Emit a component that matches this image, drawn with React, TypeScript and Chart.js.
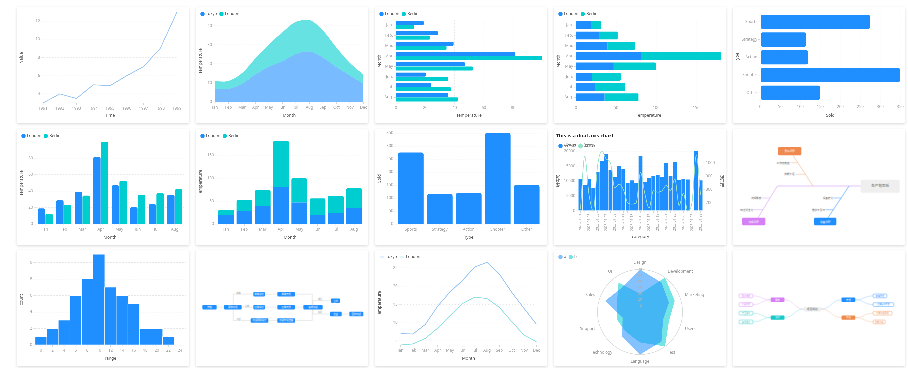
import React, { useEffect, useRef } from 'react';
import { Chart, registerables } from 'chart.js';
Chart.register(...registerables);

// ---------------- data ----------------
const years = ['1991', '1992', '1993', '1994', '1995', '1996', '1997', '1998', '1999'];
const yearValues = [3, 4, 3.5, 5, 4.9, 6, 7, 9, 13];
const valueTicks = [4, 6, 8, 10, 12];

const months12 = ['Jan', 'Feb', 'Mar', 'Apr', 'May', 'Jun', 'Jul', 'Aug', 'Sep', 'Oct', 'Nov', 'Dec'];
const tokyoTemps = [7.0, 6.9, 9.5, 14.5, 18.4, 21.5, 25.2, 26.5, 23.3, 18.3, 13.9, 9.6];
const londonTemps = [3.9, 4.2, 5.7, 8.5, 11.9, 15.2, 17.0, 16.6, 14.2, 10.3, 6.6, 4.8];
const areaTicks = [0, 10, 20, 30, 40];
const tempLineTicks = [5, 10, 15, 20, 25];

const months8Dot = ['Jan.', 'Feb.', 'Mar.', 'Apr.', 'May', 'Jun.', 'Jul.', 'Aug.'];
const months8 = ['Jan', 'Feb', 'Mar', 'Apr', 'May', 'Jun', 'Jul', 'Aug'];
const londonRain = [18.9, 28.8, 39.3, 81.4, 47, 20.3, 24, 35.6];
const berlinRain = [12.4, 23.2, 34.5, 99.7, 52.6, 35.5, 37.4, 42.4];
const groupTicks = [0, 20, 40, 60, 80];
const stackTicks = [0, 50, 100, 150];

const gameTypes = ['Sports', 'Strategy', 'Action', 'Shooter', 'Other'];
const gameSold = [275, 115, 120, 350, 150];
const soldTicks = [0, 50, 100, 150, 200, 250, 300, 350];

const histBins = ['0', '2', '4', '6', '8', '10', '12', '14', '16', '18', '20', '22', '24'];
const histCounts = [1, 2, 3, 6, 8, 11, 7, 6, 5, 2, 2, 1];
const histTicks = [0, 2, 4, 6, 8, 10];

const dualDates = [
  '2023-01-01', '2023-01-02', '2023-01-03', '2023-01-04', '2023-01-05', '2023-01-06', '2023-01-07', '2023-01-08',
  '2023-01-09', '2023-01-10', '2023-01-11', '2023-01-12', '2023-01-13', '2023-01-14', '2023-01-15', '2023-01-16',
  '2023-01-17', '2023-01-18', '2023-01-19', '2023-01-20', '2023-01-21', '2023-01-22', '2023-01-23', '2023-01-24',
  '2023-01-25', '2023-01-26', '2023-01-27', '2023-01-28', '2023-01-29',
];
const dualBars = [10700, 8600, 10600, 7700, 13000, 16700, 19100, 13700, 11400, 15000, 14100, 9300, 10200, 9200, 18300,
  9700, 10900, 11700, 12100, 11300, 16000, 11700, 16500, 10300, 10600, 10500, null, 20100, 10200];
const dualLine = [650, 1050, 760, 640, 980, 1090, 1030, 1000, 810, 840, 800, 700, 690, 700, 930, 770, 660, 790, 780,
  790, 830, 790, 880, 680, 770, 640, 700, 1060, 760];
const dualLeftTicks = [0, 5000, 10000, 15000, 20000];
const dualRightTicks = [700, 800, 900, 1000];

const radarItems = ['Design', 'Development', 'Marketing', 'Users', 'Test', 'Language', 'Technology', 'Support', 'Sales', 'UI'];
const radarA = [70, 60, 50, 40, 60, 70, 50, 30, 60, 50];
const radarB = [30, 70, 60, 50, 70, 50, 40, 40, 40, 60];

// ---------------- styles ----------------
const FONT = '"Noto Sans", "Noto Sans CJK SC", sans-serif';
const CJK = '"Noto Sans CJK SC", "Noto Sans", sans-serif';
const TICK = '#a8a8a8';
const TITLE = '#5a5a5a';
const GRID = '#e6e6e6';
const BLUE = '#1f8fff';
const TEAL = '#00cdd0';
const CW = 172;
const CH = 116;
const COLS = [17, 196, 375, 554, 733];
const ROWS = [7, 129, 250];

const f = (size: number, weight: any = 'normal') => ({ family: FONT, size, weight });

const base = (extra: any) => ({
  responsive: false,
  maintainAspectRatio: false,
  animation: false,
  devicePixelRatio: 3,
  events: [],
  ...extra,
  plugins: { tooltip: { enabled: false }, legend: { display: false }, ...(extra.plugins || {}) },
});

const legend = (maxHeight: number, extra: any = {}) => ({
  display: true,
  position: 'top',
  align: 'start',
  maxHeight,
  labels: {
    font: f(4), color: '#5a5a5a', boxWidth: 3, boxHeight: 3, usePointStyle: true, pointStyle: 'circle', padding: 3,
    ...extra,
  },
});

function catScale(title: string, size: number, horiz: boolean, extra: any = {}) {
  return {
    type: 'category',
    offset: true,
    grid: { drawOnChartArea: false, drawTicks: true, tickLength: 2, color: '#d4d4d4', lineWidth: 0.5, offset: false },
    border: { display: false },
    ticks: { font: f(4), color: TICK, padding: 1, autoSkip: false, maxRotation: 0, minRotation: 0 },
    title: { display: !!title, text: title, font: f(4.2), color: TITLE, padding: 0 },
    afterFit: (a: any) => { if (horiz) a.height = size; else a.width = size; },
    ...extra,
  };
}

function valScale(title: string, size: number, horiz: boolean, tickVals: number[], extra: any = {}) {
  return {
    type: 'linear',
    grid: { color: GRID, lineWidth: 0.5, drawTicks: true, tickLength: 2 },
    border: { display: false, dash: [1.5, 1.5] },
    ticks: { font: f(4), color: TICK, padding: 1, callback: (v: any) => String(v) },
    afterBuildTicks: (a: any) => { a.ticks = tickVals.map((v) => ({ value: v })); },
    title: { display: !!title, text: title, font: f(4.2), color: TITLE, padding: 0 },
    afterFit: (a: any) => { if (horiz) a.height = size; else a.width = size; },
    ...extra,
  };
}

const sum = (a: number[], b: number[]) => a.map((v, i) => v + b[i]);
const maxOf = (a: any[]) => Math.max(...a.filter((v) => v != null));
const minOf = (a: any[]) => Math.min(...a.filter((v) => v != null));

// ---------------- chart configs ----------------
const cfgLine1 = () => ({
  type: 'line',
  data: { labels: years, datasets: [{ data: yearValues, borderColor: '#96c4f4', borderWidth: 0.8, pointRadius: 0, tension: 0 }] },
  options: base({
    layout: { padding: { left: 2, right: 12, top: 5, bottom: 5 } },
    scales: {
      x: catScale('Time', 15, true, { offset: false }),
      y: valScale('Value', 24, false, valueTicks, { min: minOf(yearValues), max: maxOf(yearValues) }),
    },
  }),
});

const cfgArea = () => ({
  type: 'line',
  data: {
    labels: months12,
    datasets: [
      { label: 'Tokyo', data: tokyoTemps, fill: 'origin', backgroundColor: 'rgba(30,144,255,0.6)', borderWidth: 0, pointRadius: 0, tension: 0.35, pointBackgroundColor: BLUE, borderColor: BLUE },
      { label: 'London', data: londonTemps, fill: '-1', backgroundColor: 'rgba(0,206,209,0.6)', borderWidth: 0, pointRadius: 0, tension: 0.35, pointBackgroundColor: TEAL, borderColor: TEAL },
    ],
  },
  options: base({
    layout: { padding: { left: 2, right: 4, top: 2, bottom: 5 } },
    plugins: { legend: legend(11) },
    scales: {
      x: catScale('Month', 16, true, { offset: false }),
      y: valScale('Temperature', 17, false, areaTicks, { stacked: true, min: 0, max: maxOf(sum(tokyoTemps, londonTemps)) }),
    },
  }),
});

const cfgGroupH = () => ({
  type: 'bar',
  data: {
    labels: months8Dot,
    datasets: [
      { label: 'London', data: londonRain, backgroundColor: BLUE, borderRadius: 1, categoryPercentage: 0.82, barPercentage: 0.95 },
      { label: 'Berlin', data: berlinRain, backgroundColor: TEAL, borderRadius: 1, categoryPercentage: 0.82, barPercentage: 0.95 },
    ],
  },
  options: base({
    indexAxis: 'y',
    layout: { padding: { left: 2, right: 5, top: 2, bottom: 5 } },
    plugins: { legend: legend(11) },
    scales: {
      y: catScale('Month', 19, false),
      x: valScale('Temperature', 15.5, true, groupTicks, { min: 0, max: maxOf(berlinRain) }),
    },
  }),
});

const cfgStackH = () => ({
  type: 'bar',
  data: {
    labels: months8Dot,
    datasets: [
      { label: 'London', data: londonRain, backgroundColor: BLUE, borderRadius: 1, categoryPercentage: 0.8, barPercentage: 0.95 },
      { label: 'Berlin', data: berlinRain, backgroundColor: TEAL, borderRadius: 1, categoryPercentage: 0.8, barPercentage: 0.95 },
    ],
  },
  options: base({
    indexAxis: 'y',
    layout: { padding: { left: 2, right: 5, top: 2, bottom: 5 } },
    plugins: { legend: legend(11) },
    scales: {
      y: catScale('Month', 20, false, { stacked: true }),
      x: valScale('Temperature', 15.5, true, stackTicks, { stacked: true, min: 0, max: maxOf(sum(londonRain, berlinRain)) }),
    },
  }),
});

const cfgSoldH = () => ({
  type: 'bar',
  data: {
    labels: gameTypes,
    datasets: [{ data: gameSold, backgroundColor: BLUE, borderColor: '#ffffff', borderWidth: 0.5, borderRadius: 2, borderSkipped: false, categoryPercentage: 0.9, barPercentage: 0.96 }],
  },
  options: base({
    indexAxis: 'y',
    layout: { padding: { left: 2, right: 4.7, top: 6, bottom: 5 } },
    scales: {
      y: catScale('Type', 25.3, false),
      x: valScale('Sold', 16.4, true, soldTicks, { min: 0, max: maxOf(gameSold) }),
    },
  }),
});

const cfgGroupV = () => ({
  type: 'bar',
  data: {
    labels: months8,
    datasets: [
      { label: 'London', data: londonRain, backgroundColor: BLUE, borderRadius: { topLeft: 1.5, topRight: 1.5 }, categoryPercentage: 0.84, barPercentage: 0.95 },
      { label: 'Berlin', data: berlinRain, backgroundColor: TEAL, borderRadius: { topLeft: 1.5, topRight: 1.5 }, categoryPercentage: 0.84, barPercentage: 0.95 },
    ],
  },
  options: base({
    layout: { padding: { left: 2, right: 5, top: 2, bottom: 5 } },
    plugins: { legend: legend(11) },
    scales: {
      x: catScale('Month', 16, true),
      y: valScale('Temperature', 17, false, groupTicks, { min: 0, max: maxOf(berlinRain) }),
    },
  }),
});

const cfgStackV = () => ({
  type: 'bar',
  data: {
    labels: months8,
    datasets: [
      { label: 'London', data: londonRain, backgroundColor: BLUE, categoryPercentage: 0.86, barPercentage: 1 },
      { label: 'Berlin', data: berlinRain, backgroundColor: TEAL, borderRadius: { topLeft: 1.5, topRight: 1.5 }, categoryPercentage: 0.86, barPercentage: 1 },
    ],
  },
  options: base({
    layout: { padding: { left: 2, right: 4.7, top: 2, bottom: 5 } },
    plugins: { legend: legend(10) },
    scales: {
      x: catScale('Month', 16, true, { stacked: true }),
      y: valScale('Temperature', 19, false, stackTicks, { stacked: true, min: 0, max: maxOf(sum(londonRain, berlinRain)) }),
    },
  }),
});

const cfgSoldV = () => ({
  type: 'bar',
  data: {
    labels: gameTypes,
    datasets: [{ data: gameSold, backgroundColor: BLUE, borderRadius: 2, borderSkipped: 'bottom', categoryPercentage: 0.885, barPercentage: 1 }],
  },
  options: base({
    layout: { padding: { left: 2, right: 5.8, top: 4, bottom: 5 } },
    scales: {
      x: catScale('Type', 16, true),
      y: valScale('Sold', 19.3, false, soldTicks, { min: 0, max: maxOf(gameSold) }),
    },
  }),
});

const cfgDual = () => ({
  type: 'bar',
  data: {
    labels: dualDates,
    datasets: [
      { type: 'line', label: '满意度', data: dualLine, yAxisID: 'y1', borderColor: '#96e2c6', backgroundColor: '#96e2c6', borderWidth: 0.7, pointRadius: 0, cubicInterpolationMode: 'monotone', order: 0, pointStyle: 'circle' },
      { type: 'bar', label: '销售额', data: dualBars, yAxisID: 'y', backgroundColor: BLUE, categoryPercentage: 0.9, barPercentage: 1, order: 1, pointStyle: 'rect' },
    ],
  },
  options: base({
    layout: { padding: { left: 2, right: 2, top: 2, bottom: 5.6 } },
    plugins: {
      title: { display: true, text: 'This is a dual axis chart', align: 'start', color: '#222', font: { family: FONT, size: 5, weight: 'bold' }, padding: { top: 2, bottom: 2 } },
      legend: { ...legend(10), reverse: true },
    },
    scales: {
      x: catScale('category', 28.7, true, {
        ticks: { font: f(3.3), color: TICK, padding: 1, autoSkip: false, minRotation: 90, maxRotation: 90, callback: (_v: any, i: number) => (i % 2 === 0 ? dualDates[i] : '') },
        title: { display: true, text: 'category', font: f(4.2), color: TITLE, padding: 0 },
      }),
      y: valScale('销售额', 22.3, false, dualLeftTicks, { min: 0, max: maxOf(dualBars), position: 'left' }),
      y1: valScale('满意度', 21.3, false, dualRightTicks, { min: minOf(dualLine), max: maxOf(dualLine), position: 'right', grid: { drawOnChartArea: false, drawTicks: true, tickLength: 2, color: GRID, lineWidth: 0.5 } }),
    },
  }),
});

const cfgHist = () => ({
  type: 'bar',
  data: {
    labels: histBins,
    datasets: [{ data: histCounts, backgroundColor: BLUE, borderColor: '#ffffff', borderWidth: 0.5, borderSkipped: false, categoryPercentage: 1, barPercentage: 1 }],
  },
  options: base({
    layout: { padding: { left: 2, right: 3.2, top: 4.3, bottom: 5 } },
    scales: {
      x: catScale('range', 16, true),
      y: valScale('count', 16.2, false, histTicks, { min: 0, max: maxOf(histCounts) }),
    },
  }),
});

const cfgLine2 = () => ({
  type: 'line',
  data: {
    labels: months12,
    datasets: [
      { label: 'Tokyo', data: tokyoTemps, borderColor: '#92c2f4', backgroundColor: '#92c2f4', borderWidth: 0.8, pointRadius: 0, tension: 0, pointStyle: 'line' },
      { label: 'London', data: londonTemps, borderColor: '#8cdfe0', backgroundColor: '#8cdfe0', borderWidth: 0.8, pointRadius: 0, tension: 0, pointStyle: 'line' },
    ],
  },
  options: base({
    layout: { padding: { left: 2, right: 10.6, top: 2, bottom: 5 } },
    plugins: { legend: legend(10.3, { pointStyle: 'line', boxWidth: 4 }) },
    scales: {
      x: catScale('Month', 16, true, { offset: false }),
      y: valScale('Temperature', 23.6, false, tempLineTicks, { min: minOf(londonTemps), max: maxOf(tokyoTemps) }),
    },
  }),
});

const cfgRadar = () => ({
  type: 'radar',
  data: {
    labels: radarItems,
    datasets: [
      { label: 'a', data: radarA, backgroundColor: 'rgba(30,144,255,0.55)', borderColor: 'rgba(30,144,255,0.55)', borderWidth: 0, pointRadius: 0, fill: true },
      { label: 'b', data: radarB, backgroundColor: 'rgba(0,206,209,0.55)', borderColor: 'rgba(0,206,209,0.55)', borderWidth: 0, pointRadius: 0, fill: true },
    ],
  },
  options: base({
    layout: { padding: { left: 2, right: 2, top: 2, bottom: 1 } },
    plugins: { legend: legend(9) },
    scales: {
      r: {
        min: 0,
        max: 70,
        ticks: { stepSize: 10, font: f(3.3), color: '#b0b0b0', showLabelBackdrop: false, z: 1 },
        grid: { circular: true, lineWidth: 0.6, color: (c: any) => (c.index === 7 ? '#d9d9d9' : 'rgba(0,0,0,0)') },
        angleLines: { display: false },
        pointLabels: { font: f(4), color: '#9a9a9a', padding: 1 },
      },
    },
  }),
});

// ---------------- components ----------------
const cardStyle = (x: number, y: number): any => ({
  position: 'absolute', left: x, top: y, width: CW, height: CH, background: '#ffffff',
  boxShadow: '0 1px 3px rgba(0,0,0,0.16)', borderRadius: 1, overflow: 'hidden',
});

function ChartCard({ x, y, make }: any) {
  const ref = useRef<HTMLCanvasElement>(null);
  useEffect(() => {
    const chart = new Chart(ref.current as HTMLCanvasElement, make());
    return () => chart.destroy();
  }, []);
  return (
    <div style={cardStyle(x, y)}>
      <canvas ref={ref} width={CW} height={CH} style={{ display: 'block', width: CW, height: CH }} />
    </div>
  );
}

function Fishbone() {
  const t = { fontFamily: CJK, fontSize: 2.6, fill: '#666' } as any;
  const box = (x: number, y: number, w: number, h: number, color: string, label: string) => (
    <g>
      <rect x={x} y={y} width={w} height={h} rx={1.2} fill={color} />
      <text x={x + w / 2} y={y + h / 2 + 1} textAnchor="middle" style={{ ...t, fill: '#fff' }}>{label}</text>
    </g>
  );
  return (
    <svg width={CW} height={CH} viewBox={`0 0 ${CW} ${CH}`} style={{ display: 'block' }}>
      <line x1={44.3} y1={57} x2={128} y2={57} stroke="#dcaef6" strokeWidth={0.7} />
      <line x1={60} y1={26.3} x2={80} y2={57} stroke="#f4b58c" strokeWidth={0.6} />
      <line x1={57.5} y1={33.7} x2={64.8} y2={33.7} stroke="#f4b58c" strokeWidth={0.5} />
      <line x1={62.5} y1={45.3} x2={72.4} y2={45.3} stroke="#f4b58c" strokeWidth={0.5} />
      <text x={56.5} y={34.6} textAnchor="end" style={t}>工作态度差</text>
      <text x={61.5} y={46.2} textAnchor="end" style={t}>技能不足</text>
      {box(45, 18, 23.3, 8.3, '#f0894f', '员工问题')}
      <line x1={44.3} y1={57} x2={25} y2={88.7} stroke="#d9a0f6" strokeWidth={0.6} />
      <line x1={29} y1={69} x2={37} y2={69} stroke="#d9a0f6" strokeWidth={0.5} />
      <line x1={21} y1={80.7} x2={30} y2={80.7} stroke="#d9a0f6" strokeWidth={0.5} />
      <text x={28.3} y={69.9} textAnchor="end" style={t}>流程繁琐</text>
      <text x={20.3} y={81.6} textAnchor="end" style={t}>缺乏标准化</text>
      {box(9, 88.7, 23.3, 7.6, '#d680f6', '流程问题')}
      <line x1={116} y1={57} x2={95} y2={88.7} stroke="#3d9cff" strokeWidth={0.6} />
      <line x1={100.5} y1={69} x2={108} y2={69} stroke="#3d9cff" strokeWidth={0.5} />
      <line x1={92.5} y1={80.7} x2={100.3} y2={80.7} stroke="#3d9cff" strokeWidth={0.5} />
      <text x={100} y={69.9} textAnchor="end" style={t}>设备老化</text>
      <text x={92} y={81.6} textAnchor="end" style={t}>维护不及时</text>
      {box(81, 88.7, 22.3, 7.6, BLUE, '设备问题')}
      <rect x={127.7} y={50.7} width={39} height={13} rx={1.5} fill="#efefef" />
      <text x={147.2} y={58.4} textAnchor="middle" style={{ ...t, fontSize: 3.6, fill: '#555' }}>生产效率低</text>
    </svg>
  );
}

function Flowchart() {
  const t = { fontFamily: CJK, fontSize: 2.3, fill: '#fff' } as any;
  const lt = { fontFamily: CJK, fontSize: 2.1, fill: '#999' } as any;
  const node = (x1: number, x2: number, cy: number, label: string) => (
    <g>
      <rect x={x1} y={cy - 2.2} width={x2 - x1} height={4.4} rx={0.8} fill={BLUE} />
      <text x={(x1 + x2) / 2} y={cy + 0.8} textAnchor="middle" style={t}>{label}</text>
    </g>
  );
  const ln = (d: string) => <path d={d} fill="none" stroke="#c4c4c4" strokeWidth={0.35} />;
  const r0 = 44.2;
  const r1 = 57.2;
  const r2 = 70.5;
  return (
    <svg width={CW} height={CH} viewBox={`0 0 ${CW} ${CH}`} style={{ display: 'block' }}>
      {ln(`M20.7 ${r1} H28`)}
      {ln(`M37.3 ${r1 - 2.2} V${r0} H57.3`)}
      {ln(`M45.7 ${r1} H57.3`)}
      {ln(`M37.3 ${r1 + 2.2} V${r2} H54.7`)}
      {ln(`M69 ${r0} H81.3`)}
      {ln(`M69 ${r1} H81.3`)}
      {ln(`M72.3 ${r2} H81.3`)}
      {ln(`M99 ${r0} H116.3 V${r1 - 2.2}`)}
      {ln(`M99 ${r1} H107.3`)}
      {ln(`M99 ${r2} H116.3 V${r1 + 2.2}`)}
      {ln(`M117 ${r1 - 2.2} V50.7 H135`)}
      {ln(`M117 ${r1 + 2.2} V64 H134`)}
      {ln(`M145.7 64 H153.3`)}
      <text x={40.5} y={r0 - 0.6} style={lt}>前端</text>
      <text x={49} y={r1 - 0.6} style={lt}>后端</text>
      <text x={40.5} y={r2 - 0.6} style={lt}>测试</text>
      <text x={122} y={50.1} style={lt}>通过</text>
      <text x={122} y={63.4} style={lt}>失败</text>
      {node(6.3, 20.7, r1, '开始')}
      {node(28, 45.7, r1, '需求分析')}
      {node(57.3, 69, r0, '前端设计')}
      {node(81.3, 99, r0, '前端开发')}
      {node(57.3, 69, r1, '后端设计')}
      {node(81.3, 99, r1, '后端开发')}
      {node(54.7, 72.3, r2, '测试用例设计')}
      {node(81.3, 99, r2, '测试环境准备')}
      {node(107.3, 126.7, r1, '集成测试')}
      {node(135, 144, 50.7, '上线')}
      {node(134, 145.7, 64, '修复')}
      {node(153.3, 167.3, 64, '回归测试')}
    </svg>
  );
}

function MindMap() {
  const t = { fontFamily: CJK, fontSize: 2.4 } as any;
  const filled = (x1: number, x2: number, cy: number, color: string, label: string) => (
    <g>
      <rect x={x1} y={cy - 2.2} width={x2 - x1} height={4.4} rx={1} fill={color} />
      <text x={(x1 + x2) / 2} y={cy + 0.85} textAnchor="middle" style={{ ...t, fill: '#fff' }}>{label}</text>
    </g>
  );
  const leaf = (x1: number, x2: number, cy: number, color: string, label: string) => (
    <g>
      <rect x={x1} y={cy - 1.9} width={x2 - x1} height={3.8} rx={1} fill="#fff" stroke={color} strokeWidth={0.4} />
      <text x={(x1 + x2) / 2} y={cy + 0.8} textAnchor="middle" style={{ ...t, fontSize: 2.1, fill: color }}>{label}</text>
    </g>
  );
  const curve = (x1: number, y1: number, x2: number, y2: number, color: string) => {
    const mx = (x1 + x2) / 2;
    return <path d={`M${x1} ${y1} C${mx} ${y1} ${mx} ${y2} ${x2} ${y2}`} fill="none" stroke={color} strokeWidth={0.4} />;
  };
  const P = '#d57ef6';
  const Tl = '#19c8c8';
  const O = '#f08a4b';
  const Pl = '#e4b3f8';
  const Tll = '#7fdede';
  const Bl = '#8cc2fb';
  const Ol = '#f6bb98';
  return (
    <svg width={CW} height={CH} viewBox={`0 0 ${CW} ${CH}`} style={{ display: 'block' }}>
      {curve(70.7, 59.1, 51.5, 49.8, Pl)}
      {curve(70.7, 59.1, 51.5, 67.6, Tll)}
      {curve(87.9, 59.1, 108.5, 49.8, Bl)}
      {curve(87.9, 59.1, 108.5, 67.6, Ol)}
      {curve(37.7, 49.8, 19.9, 45.9, Pl)}
      {curve(37.7, 49.8, 19.9, 54.6, Pl)}
      {curve(37.7, 67.6, 19.9, 63.2, Tll)}
      {curve(37.7, 67.6, 19.9, 71.9, Tll)}
      {curve(122.3, 49.8, 140.1, 45.9, Bl)}
      {curve(122.3, 49.8, 140.1, 54.6, Bl)}
      {curve(122.3, 67.6, 140.1, 63.2, Ol)}
      {curve(122.3, 67.6, 140.1, 71.9, Ol)}
      <rect x={70.7} y={56.9} width={17.2} height={4.6} rx={1} fill="#eeeeee" />
      <text x={79.3} y={60.1} textAnchor="middle" style={{ ...t, fontSize: 2.6, fill: '#555' }}>项目规划</text>
      {filled(37.7, 51.5, 49.8, P, '需求')}
      {filled(37.7, 51.5, 67.6, Tl, '设计')}
      {filled(108.5, 122.3, 49.8, BLUE, '开发')}
      {filled(108.5, 122.3, 67.6, O, '测试')}
      {leaf(6.1, 19.9, 45.9, P, '用户调研')}
      {leaf(6.1, 19.9, 54.6, P, '竞品分析')}
      {leaf(6.1, 19.9, 63.2, Tl, '交互设计')}
      {leaf(6.1, 19.9, 71.9, Tl, '视觉设计')}
      {leaf(140.1, 153.9, 45.9, BLUE, '前端开发')}
      {leaf(140.1, 160.8, 54.6, BLUE, '后端接口开发')}
      {leaf(140.1, 159, 63.2, O, '功能测试用例')}
      {leaf(140.1, 152.2, 71.9, O, '性能测试')}
    </svg>
  );
}

function SvgCard({ x, y, children }: any) {
  return <div style={cardStyle(x, y)}>{children}</div>;
}

export default function App() {
  return (
    <div style={{ position: 'absolute', left: 0, top: 0, width: 908, height: 368, background: '#ffffff', overflow: 'hidden' }}>
      <ChartCard x={COLS[0]} y={ROWS[0]} make={cfgLine1} />
      <ChartCard x={COLS[1]} y={ROWS[0]} make={cfgArea} />
      <ChartCard x={COLS[2]} y={ROWS[0]} make={cfgGroupH} />
      <ChartCard x={COLS[3]} y={ROWS[0]} make={cfgStackH} />
      <ChartCard x={COLS[4]} y={ROWS[0]} make={cfgSoldH} />
      <ChartCard x={COLS[0]} y={ROWS[1]} make={cfgGroupV} />
      <ChartCard x={COLS[1]} y={ROWS[1]} make={cfgStackV} />
      <ChartCard x={COLS[2]} y={ROWS[1]} make={cfgSoldV} />
      <ChartCard x={COLS[3]} y={ROWS[1]} make={cfgDual} />
      <SvgCard x={COLS[4]} y={ROWS[1]}><Fishbone /></SvgCard>
      <ChartCard x={COLS[0]} y={ROWS[2]} make={cfgHist} />
      <SvgCard x={COLS[1]} y={ROWS[2]}><Flowchart /></SvgCard>
      <ChartCard x={COLS[2]} y={ROWS[2]} make={cfgLine2} />
      <ChartCard x={COLS[3]} y={ROWS[2]} make={cfgRadar} />
      <SvgCard x={COLS[4]} y={ROWS[2]}><MindMap /></SvgCard>
    </div>
  );
}
